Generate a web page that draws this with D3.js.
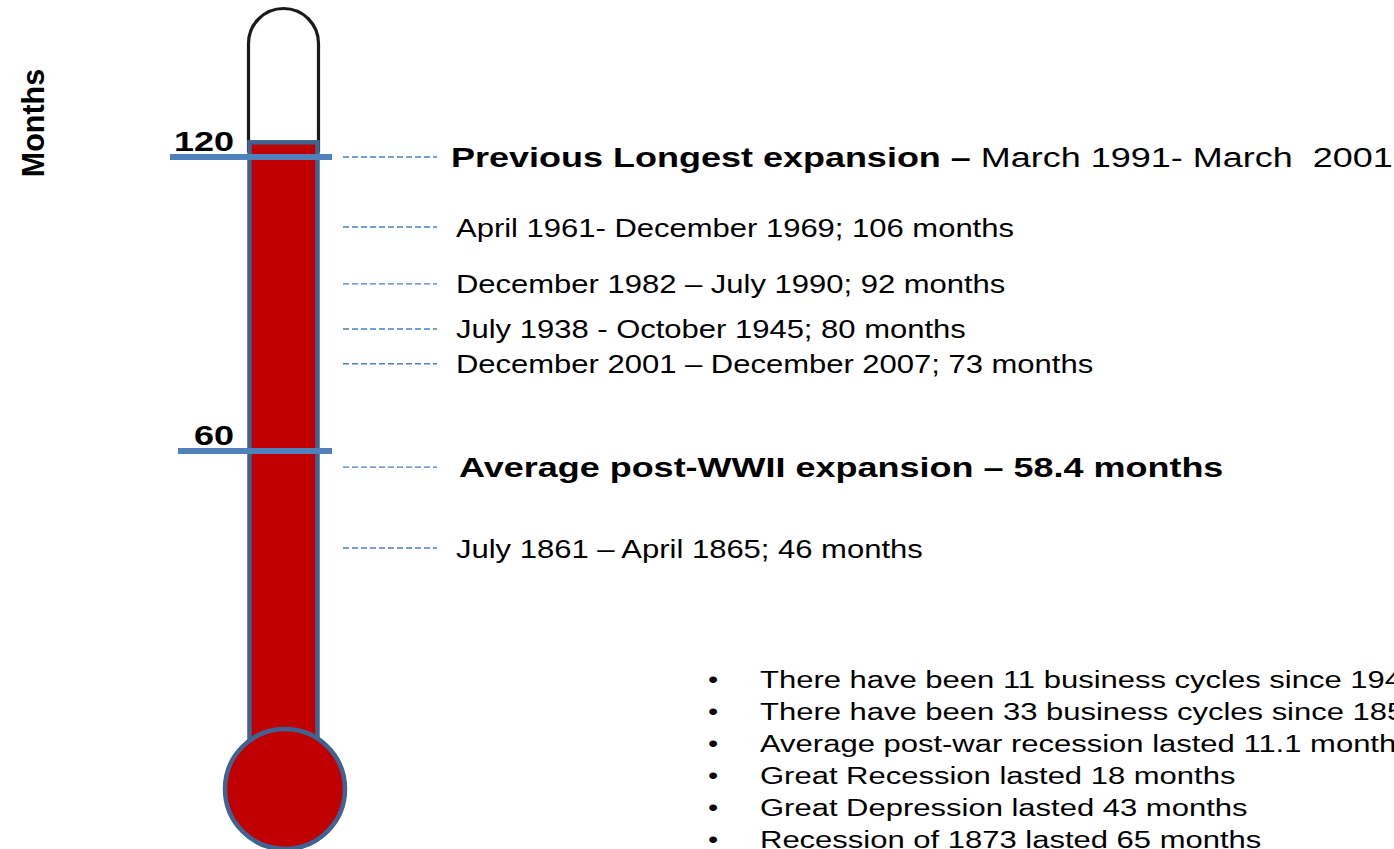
<!DOCTYPE html>
<html>
<head>
<meta charset="utf-8">
<script src="https://cdn.jsdelivr.net/npm/d3@7"></script>
<style>
  html, body { margin: 0; padding: 0; background: #fff; overflow: hidden; }
  svg { display: block; }
  text { font-family: "Liberation Sans", Arial, Helvetica, sans-serif; fill: #000; white-space: pre; }
</style>
</head>
<body>
<svg id="chart" width="1394" height="849"></svg>
<script>
// ---------------- data ----------------
const tickValues = [60, 120];
const tickLabels = ["60", "120"];
const currentExpansion = 123;            // level of the red column (months)
const durations = [120, 106, 92, 80, 73, 58.4, 46];
// where each annotation sits on the month scale (labels are spread out for legibility)
const labelAnchors = [120, 105.7, 94.1, 84.9, 77.8, 56.7, 40.2];
const labelBold = [
  "Previous Longest expansion \u2013 ",
  "", "", "", "",
  "Average post-WWII expansion \u2013 58.4 months",
  ""
];
const labelPlain = [
  "March 1991- March  2001",
  "April 1961- December 1969; 106 months",
  "December 1982 \u2013 July 1990; 92 months",
  "July 1938 - October 1945; 80 months",
  "December 2001 \u2013 December 2007; 73 months",
  "",
  "July 1861 \u2013 April 1865; 46 months"
];
const notes = [
  "There have been 11 business cycles since 1945",
  "There have been 33 business cycles since 1854",
  "Average post-war recession lasted 11.1 months",
  "Great Recession lasted 18 months",
  "Great Depression lasted 43 months",
  "Recession of 1873 lasted 65 months"
];
const axisTitle = "Months";

// ---------------- layout ----------------
const svg = d3.select("#chart");
const y = d3.scaleLinear().domain([0, 120]).range([745, 157]);

const RED = "#c00000";
const TICK_BLUE = "#4f81bd";
const DASH_BLUE = "#4a7fc4";
const EDGE_BLUE = "#3f6494";

const tubeL = 248.5, tubeR = 318.5, tubeR2 = (tubeR - tubeL) / 2;
const bulb = { cx: 285, cy: 789, r: 60 };

// glass outline (black)
const topY = 8.5 + tubeR2;
svg.append("path")
  .attr("d", `M${tubeL},${y(currentExpansion) + 10} L${tubeL},${topY} A${tubeR2},${tubeR2} 0 0 1 ${tubeR},${topY} L${tubeR},${y(currentExpansion) + 10}`)
  .attr("fill", "#fff")
  .attr("stroke", "#1a1a1a")
  .attr("stroke-width", 3.2);

// red column
svg.append("rect")
  .attr("x", tubeL + 1)
  .attr("y", y(currentExpansion))
  .attr("width", tubeR - tubeL - 2)
  .attr("height", bulb.cy - y(currentExpansion))
  .attr("fill", RED)
  .attr("stroke", EDGE_BLUE)
  .attr("stroke-width", 4.5);

// bulb
svg.append("circle")
  .attr("cx", bulb.cx).attr("cy", bulb.cy).attr("r", bulb.r)
  .attr("fill", RED)
  .attr("stroke", EDGE_BLUE)
  .attr("stroke-width", 4.5);

// tick marks
const tickStart = { 120: 170, 60: 178 };
svg.selectAll("line.tick").data(tickValues).enter().append("line")
  .attr("class", "tick")
  .attr("x1", d => tickStart[d]).attr("x2", 332)
  .attr("y1", d => y(d)).attr("y2", d => y(d))
  .attr("stroke", TICK_BLUE)
  .attr("stroke-width", 6);

// helper: text squeezed vertically like the source slide
function squishText(x, yy, size, weight, k) {
  return svg.append("text")
    .attr("transform", `translate(${x},${yy}) scale(1,${k})`)
    .style("font-size", size + "px")
    .style("font-weight", weight);
}

tickValues.forEach((v, i) => {
  squishText(234, y(v) - 6, 36, "bold", 0.78)
    .attr("text-anchor", "end")
    .text(tickLabels[i]);
});

// axis title
svg.append("text")
  .attr("transform", "translate(44,123) rotate(-90)")
  .attr("text-anchor", "middle")
  .style("font-size", "30.5px")
  .style("font-weight", "bold")
  .text(axisTitle);

// annotation connectors + labels
durations.forEach((d, i) => {
  const yy = y(labelAnchors[i]);
  svg.append("line")
    .attr("x1", 343).attr("x2", 437)
    .attr("y1", yy).attr("y2", yy)
    .attr("stroke", DASH_BLUE)
    .attr("stroke-width", 1.4)
    .attr("stroke-dasharray", "6,3");
  const isBold = labelBold[i] !== "";
  const x0 = isBold ? (i === 0 ? 451 : 459) : 456;
  const t = squishText(x0, yy + 9.5, 31, "normal", isBold ? 0.77 : 0.82);
  if (isBold) {
    t.append("tspan").style("font-weight", "bold").style("font-size", "36px").text(labelBold[i]);
  }
  if (labelPlain[i]) {
    t.append("tspan").style("font-size", isBold ? "36px" : "31px").text(labelPlain[i]);
  }
});

// bullet notes
notes.forEach((n, i) => {
  const by = 688 + i * 32;
  squishText(708, by, 29, "normal", 0.8).text("\u2022");
  squishText(760, by, 31, "normal", 0.77).text(n);
});
</script>
</body>
</html>
